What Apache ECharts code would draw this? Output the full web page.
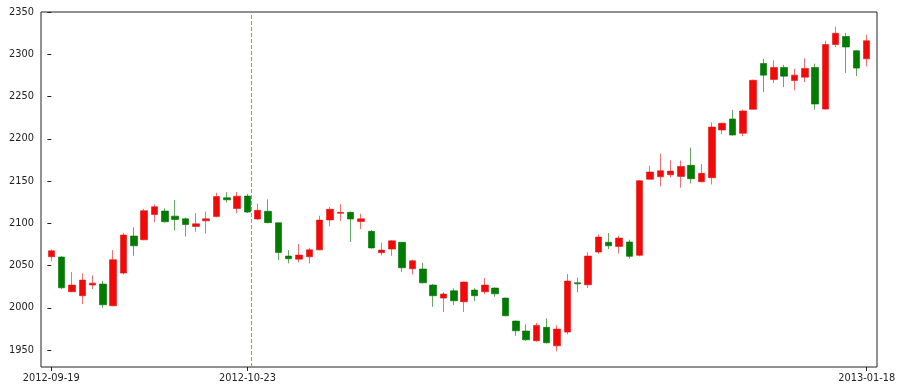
<!DOCTYPE html>
<html>
<head>
<meta charset="utf-8">
<script src="https://cdn.jsdelivr.net/npm/echarts@6/dist/echarts.min.js"></script>
<style>
html,body{margin:0;padding:0;background:#fff;}
#chart{width:902px;height:391px;}
</style>
</head>
<body>
<div id="chart"></div>
<script>
// Trading dates (categories)
const dates = [
  '2012-09-19','2012-09-20','2012-09-21','2012-09-24','2012-09-25','2012-09-26','2012-09-27','2012-09-28',
  '2012-10-08','2012-10-09','2012-10-10','2012-10-11','2012-10-12','2012-10-15','2012-10-16','2012-10-17',
  '2012-10-18','2012-10-19','2012-10-22','2012-10-23','2012-10-24','2012-10-25','2012-10-26','2012-10-29',
  '2012-10-30','2012-10-31','2012-11-01','2012-11-02','2012-11-05','2012-11-06','2012-11-07','2012-11-08',
  '2012-11-09','2012-11-12','2012-11-13','2012-11-14','2012-11-15','2012-11-16','2012-11-19','2012-11-20',
  '2012-11-21','2012-11-22','2012-11-23','2012-11-26','2012-11-27','2012-11-28','2012-11-29','2012-11-30',
  '2012-12-03','2012-12-04','2012-12-05','2012-12-06','2012-12-07','2012-12-10','2012-12-11','2012-12-12',
  '2012-12-13','2012-12-14','2012-12-17','2012-12-18','2012-12-19','2012-12-20','2012-12-21','2012-12-24',
  '2012-12-25','2012-12-26','2012-12-27','2012-12-28','2012-12-31','2013-01-04','2013-01-07','2013-01-08',
  '2013-01-09','2013-01-10','2013-01-11','2013-01-14','2013-01-15','2013-01-16','2013-01-17','2013-01-18'
];

const openVals = [
  2060.4,2060.1,2019.0,2014.3,2027.0,2028.1,2002.4,2041.1,2084.9,2080.5,
  2110.4,2114.5,2108.5,2105.3,2096.2,2102.9,2108.0,2130.2,2117.5,2132.2,
  2105.1,2114.2,2100.6,2061.2,2057.6,2060.4,2068.6,2104.0,2111.8,2113.0,
  2102.1,2090.5,2065.2,2069.5,2077.5,2046.2,2045.9,2026.9,2011.5,2020.2,
  2007.2,2021.0,2019.0,2023.4,2011.5,1984.3,1972.5,1961.0,1976.9,1955.1,
  1971.3,2029.6,2027.2,2066.0,2077.5,2072.7,2077.9,2062.1,2152.1,2155.1,
  2157.4,2155.5,2168.6,2149.2,2153.9,2210.4,2223.4,2206.5,2234.9,2289.1,
  2270.2,2284.4,2269.0,2272.9,2284.4,2235.1,2311.5,2321.0,2304.2,2294.6
];
const closeVals = [
  2067.5,2023.7,2026.9,2032.8,2029.2,2003.6,2056.9,2086.1,2073.4,2114.9,
  2119.6,2101.8,2104.5,2098.5,2099.4,2105.3,2131.7,2127.8,2132.1,2113.3,
  2115.4,2100.8,2065.4,2058.0,2062.4,2068.6,2103.8,2116.6,2113.0,2105.1,
  2105.3,2070.9,2068.3,2079.3,2047.4,2055.7,2029.6,2014.3,2016.3,2008.3,
  2030.5,2014.3,2026.9,2016.6,1990.6,1972.8,1962.2,1979.2,1958.6,1974.9,
  2031.7,2028.4,2061.2,2083.7,2073.4,2082.5,2060.9,2150.4,2160.7,2162.2,
  2161.8,2167.3,2152.7,2159.1,2213.9,2218.3,2204.4,2232.9,2269.2,2275.3,
  2284.4,2274.1,2275.3,2283.2,2241.1,2311.6,2324.9,2308.6,2283.6,2316.0
];
const lowVals = [
  2055.3,2022.5,2018.5,2004.4,2022.2,1999.7,2001.8,2039.5,2061.6,2080.0,
  2101.4,2101.0,2091.3,2084.4,2090.1,2087.8,2107.0,2124.6,2112.0,2112.1,
  2104.0,2100.0,2056.5,2052.6,2053.8,2052.6,2068.0,2096.4,2102.7,2077.8,
  2093.1,2070.0,2062.0,2061.5,2042.7,2039.6,2029.0,2001.2,1995.0,2003.6,
  1995.0,2008.0,2016.3,2013.1,1990.0,1966.9,1961.0,1960.0,1958.0,1948.5,
  1968.6,2018.4,2023.4,2064.0,2069.5,2064.3,2058.0,2061.0,2151.5,2143.8,
  2154.4,2142.2,2147.2,2148.5,2146.0,2205.6,2204.0,2203.0,2234.5,2255.3,
  2266.0,2261.1,2257.4,2267.2,2234.4,2234.5,2308.6,2278.1,2274.1,2285.7
];
const highVals = [
  2069.2,2061.0,2042.3,2040.8,2038.3,2032.0,2068.3,2088.8,2095.2,2117.2,
  2122.3,2117.8,2127.5,2107.0,2112.1,2113.9,2136.2,2136.7,2137.0,2134.6,
  2123.3,2128.3,2101.0,2068.3,2075.4,2071.0,2108.9,2119.3,2122.5,2114.0,
  2111.2,2092.0,2077.3,2080.0,2078.0,2057.0,2053.3,2028.0,2018.6,2023.0,
  2031.0,2023.4,2035.2,2024.0,2012.0,1985.0,1980.4,1982.3,1987.5,1979.2,
  2039.9,2035.6,2065.6,2086.9,2088.4,2085.2,2080.6,2151.0,2168.2,2182.5,
  2174.6,2174.2,2189.6,2170.1,2219.5,2219.0,2234.1,2234.6,2270.0,2294.6,
  2292.9,2287.5,2282.8,2295.3,2288.9,2316.0,2332.8,2325.3,2305.0,2323.1
];

const yTicks = [1950, 2000, 2050, 2100, 2150, 2200, 2250, 2300, 2350];
const yRange = [1930, 2350];
const xTickIdx = [0, 19, 79];
const markerPos = 19.4;

const kData = dates.map((d, i) => [i, openVals[i], closeVals[i], lowVals[i], highVals[i]]);
const markerData = yRange.map(v => [markerPos, v]);

const chart = echarts.init(document.getElementById('chart'), null, {renderer: 'canvas'});
const labelFont = {fontFamily: 'DejaVu Sans', fontSize: 9.8, color: '#222'};
chart.setOption({
  animation: false,
  backgroundColor: '#ffffff',
  grid: {left: 41, right: 25, top: 12, bottom: 24, show: true, borderColor: '#222', borderWidth: 1, backgroundColor: 'transparent'},
  xAxis: {
    type: 'value', min: -1, max: 80,
    axisLine: {show: false},
    splitLine: {show: false},
    axisTick: {show: true, length: 4, lineStyle: {color: '#222'}, customValues: xTickIdx},
    axisLabel: Object.assign({margin: 6, customValues: xTickIdx, formatter: v => dates[Math.round(v)] || ''}, labelFont)
  },
  yAxis: {
    type: 'value', min: yRange[0], max: yRange[1], scale: true,
    axisLine: {show: false},
    splitLine: {show: false},
    axisTick: {show: true, length: 4, lineStyle: {color: '#222'}, customValues: yTicks},
    axisLabel: Object.assign({margin: 7, customValues: yTicks, formatter: v => String(Math.round(v))}, labelFont)
  },
  series: [{
    type: 'candlestick',
    data: kData,
    barWidth: 7,
    encode: {x: 0, y: [1, 2, 3, 4]},
    itemStyle: {
      color: '#f00a0a',
      color0: '#007d00',
      borderColor: 'rgba(225,20,20,0.6)',
      borderColor0: 'rgba(0,110,0,0.6)',
      borderWidth: 1
    }
  }, {
    type: 'line',
    data: markerData,
    symbol: 'none',
    silent: true,
    z: 5,
    lineStyle: {color: '#b0a000', width: 1, type: [4, 2]}
  }]
});
</script>
</body>
</html>
